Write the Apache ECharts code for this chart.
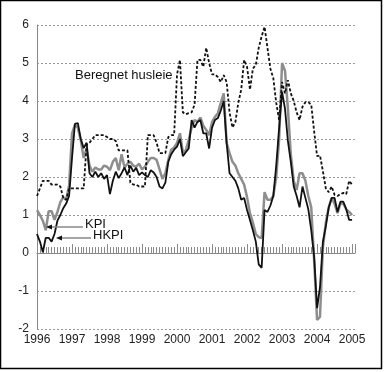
<!DOCTYPE html>
<html><head><meta charset="utf-8">
<script src="https://cdn.jsdelivr.net/npm/echarts@6/dist/echarts.min.js"></script>
<style>html,body{margin:0;padding:0;background:#fff}#c{width:384px;height:372px}</style>
</head><body><div id="c"></div>
<script>
// Monthly data, January 1996 .. January 2005
var startYear = 1996;
var kpi = [1.13,1.0,0.85,0.6,1.1,1.1,0.87,1.08,1.34,1.47,1.4,1.78,
 3.15,3.37,3.3,2.97,2.5,2.75,2.3,2.14,2.25,2.2,2.2,2.3,
 2.27,2.18,2.4,2.5,2.18,2.6,2.25,2.35,2.4,2.3,2.27,2.35,
 2.2,2.27,2.4,2.5,2.5,2.45,2.2,1.95,2.1,2.45,2.72,2.78,
 2.9,3.15,2.65,2.7,2.98,3.3,3.5,3.45,3.57,3.35,3.24,3.1,
 3.45,3.58,3.68,3.95,4.2,2.9,2.63,2.4,2.3,2.1,1.95,1.8,
 1.47,1.05,0.8,0.5,0.42,0.39,1.6,1.4,1.4,1.5,2.0,3.0,
 5.0,4.8,3.8,2.6,1.9,1.66,2.1,2.1,1.9,1.5,1.2,-0.2,
 -1.76,-1.68,0.15,0.8,1.2,1.45,1.3,1.05,1.3,1.3,1.15,1.08,
 1.0];
var hkpi = [0.5,0.3,0.02,0.4,0.4,0.3,0.5,0.85,1.0,1.18,1.3,1.5,
 2.5,3.4,3.42,3.0,2.76,2.9,2.1,2.0,2.14,2.0,2.1,1.95,
 2.05,1.55,1.9,2.14,1.97,2.1,2.25,2.05,2.3,2.14,2.24,2.05,
 2.12,2.05,2.0,2.18,2.12,2.0,1.75,1.7,1.85,2.4,2.6,2.72,
 2.8,3.0,2.55,2.65,2.75,3.5,3.3,3.45,3.5,3.15,3.15,2.75,
 3.3,3.5,3.55,3.75,4.0,2.9,2.1,2.0,1.9,1.7,1.4,1.45,
 1.13,0.87,0.6,0.3,-0.3,-0.39,1.13,1.08,1.25,1.5,2.3,3.3,
 4.24,3.8,2.95,2.4,1.75,1.5,1.2,1.75,1.45,1.15,0.6,-0.1,
 -1.45,-0.9,0.3,0.7,1.2,1.45,1.45,1.08,1.35,1.35,1.15,0.87,
 0.87];
var husleie = [1.5,1.7,1.9,1.9,1.9,1.8,1.8,1.8,1.75,1.45,1.4,1.7,
 1.7,1.7,1.7,1.7,1.7,2.85,2.9,3.0,3.1,3.1,3.1,3.1,
 3.05,3.0,3.0,2.95,2.7,2.7,2.7,2.7,1.85,1.8,1.8,1.75,
 1.75,1.75,3.1,3.1,3.1,2.9,2.63,2.63,2.63,3.05,3.1,3.1,
 4.7,5.08,3.7,3.65,3.68,3.7,3.9,5.08,5.08,4.9,5.4,5.0,
 4.7,4.7,4.63,4.5,4.68,4.5,3.7,3.3,3.45,3.95,4.3,5.08,
 4.9,4.3,4.85,4.95,5.4,5.7,5.95,5.4,4.85,4.6,3.95,3.5,
 4.5,4.2,4.55,4.2,4.0,3.7,3.5,3.85,3.97,3.97,3.9,3.2,
 2.55,2.57,2.15,1.7,1.6,1.75,1.53,1.5,1.55,1.58,1.55,1.9,
 1.8];
var yTicks = [-2,-1,0,1,2,3,4,5,6];
var yearLabels = [1996,1997,1998,1999,2000,2001,2002,2003,2004,2005];

function toPts(arr){ return arr.map(function(v,i){ return [startYear + i/12, v]; }); }
var xMin = yearLabels[0], xMax = 2005 + 1/12;
var chart = echarts.init(document.getElementById('c'), null, {renderer:'canvas'});
var font = 'Liberation Sans, Arial, sans-serif';
var yearFmt = function(v){ var r=Math.round(v); return Math.abs(v-r)<1e-6 && yearLabels.indexOf(r)>=0 ? String(r) : ''; };
var tickCol = '#8a8a8a';
chart.setOption({
  animation:false,
  backgroundColor:'#fff',
  grid:[
    {left:37,right:29,top:25,bottom:43, containLabel:false, outerBoundsMode:'none'},
    {left:37,right:29,top:247,height:6, containLabel:false, outerBoundsMode:'none'},
    {left:37,right:29,top:244,height:9, containLabel:false, outerBoundsMode:'none'}
  ],
  xAxis:[{
    gridIndex:0, type:'value', min:xMin, max:xMax, interval:1, position:'bottom',
    axisLine:{show:false, onZero:false}, axisTick:{show:false}, splitLine:{show:false},
    axisLabel:{margin:5, color:'#222', fontSize:12, fontFamily:font, formatter:yearFmt}
  },{
    gridIndex:1, type:'value', min:xMin, max:xMax, interval:1, position:'bottom',
    axisLine:{show:true, onZero:false, lineStyle:{color:tickCol, width:1}},
    axisTick:{show:false}, axisLabel:{show:false},
    minorTick:{show:false, splitNumber:12},
    splitLine:{show:true, lineStyle:{color:tickCol, width:1, type:'solid'}},
    minorSplitLine:{show:true, lineStyle:{color:tickCol, width:1, type:'solid'}}
  },{
    gridIndex:2, type:'value', min:xMin, max:xMax, interval:1, position:'bottom',
    axisLine:{show:false, onZero:false}, axisTick:{show:false}, axisLabel:{show:false},
    splitLine:{show:true, lineStyle:{color:tickCol, width:1, type:'solid'}}
  }],
  yAxis:[{
    gridIndex:0, type:'value', min:yTicks[0], max:yTicks[yTicks.length-1], interval:1,
    axisLine:{show:true, onZero:false, lineStyle:{color:'#888', width:1}},
    axisTick:{show:false},
    axisLabel:{margin:8, color:'#222', fontSize:12, fontFamily:font},
    splitLine:{show:true, lineStyle:{color:'#999', type:[2,2], width:1}}
  },{
    gridIndex:1, type:'value', min:0, max:1, show:false, splitLine:{show:false}
  },{
    gridIndex:2, type:'value', min:0, max:1, show:false, splitLine:{show:false}
  }],
  series:[
    {name:'KPI', type:'line', xAxisIndex:0, yAxisIndex:0, data:toPts(kpi), symbol:'none',
     lineStyle:{color:'#8e8e8e', width:2.5}, z:2},
    {name:'HKPI', type:'line', xAxisIndex:0, yAxisIndex:0, data:toPts(hkpi), symbol:'none',
     lineStyle:{color:'#111', width:1.8}, z:3},
    {name:'Beregnet husleie', type:'line', xAxisIndex:0, yAxisIndex:0, data:toPts(husleie), symbol:'none',
     lineStyle:{color:'#111', width:1.8, type:[3,2]}, z:4}
  ],
  graphic:[
    {type:'rect', shape:{x:0.5,y:0.5,width:381,height:368}, style:{fill:'none', stroke:'#000', lineWidth:1.5}, z:10},
    {type:'text', left:75, top:69, style:{text:'Beregnet husleie', fontSize:13, fontFamily:font, fill:'#111'}, z:10},
    {type:'text', left:85, top:218, style:{text:'KPI', fontSize:13, fontFamily:font, fill:'#111'}, z:10},
    {type:'text', left:93, top:229, style:{text:'HKPI', fontSize:13, fontFamily:font, fill:'#111'}, z:10},
    {type:'line', shape:{x1:83,y1:227,x2:50,y2:227}, style:{stroke:'#888', lineWidth:1.5}, z:10},
    {type:'polygon', shape:{points:[[46,227],[52,224.5],[52,229.5]]}, style:{fill:'#111'}, z:10},
    {type:'line', shape:{x1:91,y1:238,x2:60,y2:238}, style:{stroke:'#888', lineWidth:1.5}, z:10},
    {type:'polygon', shape:{points:[[56,238],[62,235.5],[62,240.5]]}, style:{fill:'#111'}, z:10}
  ]
});
</script></body></html>
